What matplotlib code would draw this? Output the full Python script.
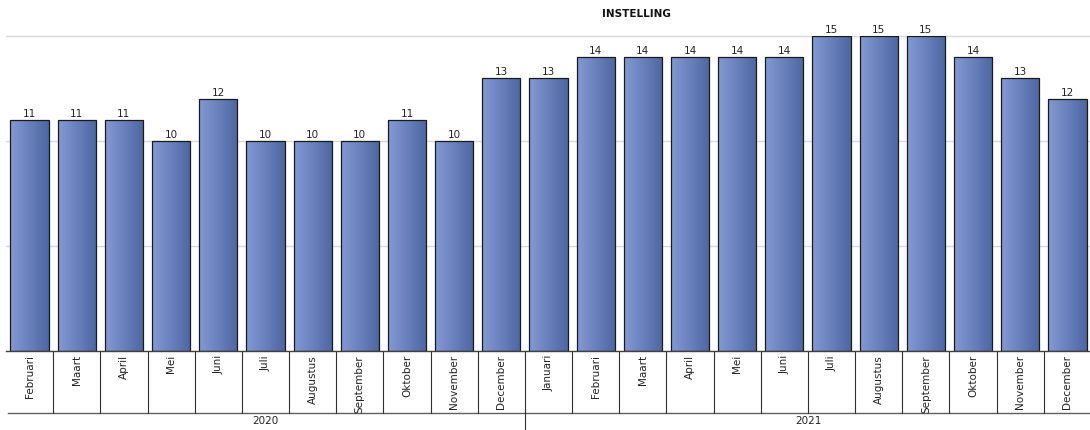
import matplotlib
matplotlib.use("Agg")
import matplotlib.pyplot as plt
import numpy as np
from matplotlib.colors import LinearSegmentedColormap

months = ["Februari", "Maart", "April", "Mei", "Juni", "Juli", "Augustus", "September",
          "Oktober", "November", "December",
          "Januari", "Februari", "Maart", "April", "Mei", "Juni", "Juli", "Augustus",
          "September", "Oktober", "November", "December"]
values = [11, 11, 11, 10, 12, 10, 10, 10, 11, 10, 13,
          13, 14, 14, 14, 14, 14, 15, 15, 15, 14, 13, 12]
years = ["2020", "2021"]
year_counts = [11, 12]
title = "INSTELLING"

W, H = 1090, 430
fig = plt.figure(figsize=(W / 100, H / 100), dpi=100)
left, right, top, base = 6, 1091, 36, 351
ax = fig.add_axes([left / W, (H - base) / H, (right - left) / W, (base - top) / H])

n = len(values)
for s in ax.spines.values():
    s.set_visible(False)
ax.set_xticks([])
ax.set_yticks([])

for g in [5, 10, 15]:
    ax.axhline(g, color="#d9d9d9", lw=1, zorder=0, clip_on=False)

cmap = LinearSegmentedColormap.from_list("g", ["#8499d4", "#4d67a3"])
grad = np.linspace(0, 1, 64).reshape(1, -1)
x = np.arange(n)
bars = ax.bar(x, values, width=0.81, facecolor="none", edgecolor="#1a1a1a", lw=0.9, zorder=3)
for b, v in zip(bars, values):
    x0 = b.get_x()
    im = ax.imshow(grad, cmap=cmap, aspect="auto",
                   extent=[x0, x0 + b.get_width(), 0, v], zorder=2, interpolation="bilinear")
    im.set_clip_path(b)
    ax.text(b.get_x() + b.get_width() / 2, v + 0.05, str(v), ha="center", va="bottom",
            fontsize=7.5, color="#222222", clip_on=False)
ax.set_xlim(-0.5, n - 0.5)
ax.set_ylim(0, 15)

tr = ax.get_xaxis_transform()
ph = base - top
row1 = -(413 - base) / ph
row2 = -(H - base) / ph

ax.plot([-0.5, n - 0.5], [0, 0], transform=tr, color="#404040", lw=1, clip_on=False, zorder=4)
ax.plot([-0.45, n - 0.5], [row1, row1], transform=tr, color="#606060", lw=1, clip_on=False)
for i in range(1, n):
    ax.plot([i - 0.5, i - 0.5], [0, row1], transform=tr, color="#303030", lw=0.8, clip_on=False)
for i, m in enumerate(months):
    ax.text(i, -4 / ph, m, rotation=90, ha="center", va="top", fontsize=7.5,
            color="#222222", transform=tr)

start = 0
for yr, c in zip(years, year_counts):
    mid = start + c / 2 - 0.5
    ax.text(mid, (row1 + row2) / 2 + 0.002, yr, ha="center", va="center", fontsize=7.5,
            color="#222222", transform=tr)
    start += c
    if start < n:
        ax.plot([start - 0.5, start - 0.5], [row1, row2], transform=tr, color="#303030",
                lw=0.8, clip_on=False)

fig.text(636 / W, 1 - 14 / H, title, ha="center", va="center", fontsize=7.5,
         fontweight="bold", color="#111111")

fig.savefig("out.png", dpi=100)
